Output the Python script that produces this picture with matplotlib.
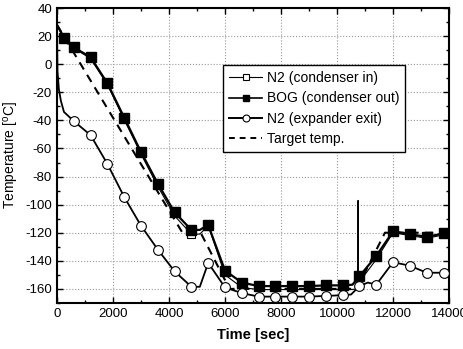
import matplotlib
matplotlib.use("Agg")
import matplotlib.pyplot as plt
from matplotlib.ticker import MultipleLocator
from matplotlib.lines import Line2D

plt.rcParams['font.family'] = ['Liberation Sans', 'DejaVu Sans']
plt.rcParams['mathtext.fontset'] = 'custom'
plt.rcParams['mathtext.rm'] = 'Liberation Sans'
plt.rcParams['axes.unicode_minus'] = False

# Target temperature
t_target = [0, 4480, 5130, 6160, 10700, 11710, 14000]
T_target = [28, -120, -120, -160, -160, -120, -120]

# N2 (condenser in)
t_n2in = [0, 250, 600, 1200, 1800, 2400, 3000, 3600, 4200, 4800, 5100, 5400, 6000, 6600,
          7200, 10500, 10740, 10750, 10760, 10800, 11400, 12000, 12600, 13200, 13800, 14000]
T_n2in = [28, 18.5, 11.5, 4, -14.5, -39.5, -64, -87, -108, -121, -121, -115, -150, -159,
          -160.5, -160.5, -160, -97, -158, -155, -139, -120, -122, -124, -121.5, -121.5]
n2in_marks = [9]

# BOG (condenser out)
t_bog = [0, 250, 600, 1200, 1800, 2400, 3000, 3600, 4200, 4800, 5100, 5400, 6000, 6600,
         7200, 7800, 8400, 9000, 9600, 10200, 10550, 10800, 11400, 12000, 12600, 13200, 13800, 14000]
T_bog = [28, 19, 12, 5, -13.5, -38, -62.5, -85, -105.5, -118, -118, -114.5, -147, -155.5,
         -158, -158, -158, -158, -157.5, -157.5, -157, -151, -136.5, -119, -121, -123, -120.5, -120.5]
bog_marks = [1, 2, 3, 4, 5, 6, 7, 8, 9, 11, 12, 13, 14, 15, 16, 17, 18, 19, 21, 22, 23, 24, 25, 26]

# N2 (expander exit)
t_n2ex = [0, 20, 70, 140, 250, 600, 1200, 1800, 2400, 3000, 3600, 4200, 4800, 5100, 5400, 6000,
          6600, 7200, 7800, 8400, 9000, 9600, 10200, 10500, 10800, 11100, 11400, 12000, 12600,
          13200, 13800, 14000]
T_n2ex = [28, -5, -18, -26, -34, -40.5, -50.5, -71, -94.5, -115, -132, -147.5, -158.5, -158.5,
          -141.5, -159, -163, -165.5, -165.5, -165.5, -165.5, -165, -164.5, -164, -158, -155.5,
          -157, -141, -143.5, -148.5, -148.5, -148.5]
n2ex_marks = [5, 6, 7, 8, 9, 10, 11, 12, 14, 15, 16, 17, 18, 19, 20, 21, 22, 24, 26, 27, 28, 29, 30]

fig = plt.figure(figsize=(4.63, 3.49), dpi=100)
ax = fig.add_axes([0.123, 0.132, 0.847, 0.845])

ax.plot(t_target, T_target, color='black', lw=1.5, dashes=(4, 3), zorder=2)
ax.plot(t_n2in, T_n2in, color='black', lw=0.8, marker='s', markersize=6, markerfacecolor='white',
        markeredgecolor='black', markeredgewidth=0.8, markevery=n2in_marks, zorder=3)
ax.plot(t_bog, T_bog, color='black', lw=1.6, marker='s', markersize=6.5, markerfacecolor='black',
        markeredgecolor='black', markevery=bog_marks, zorder=4)
ax.plot(t_n2ex, T_n2ex, color='black', lw=1.3, marker='o', markersize=7, markerfacecolor='white',
        markeredgecolor='black', markeredgewidth=0.8, markevery=n2ex_marks, zorder=5)

h1 = Line2D([], [], color='black', lw=0.8, marker='s', markersize=4.5, markerfacecolor='white',
            markeredgewidth=0.8)
h2 = Line2D([], [], color='black', lw=1.2, marker='s', markersize=4.5, markerfacecolor='black')
h3 = Line2D([], [], color='black', lw=1.4, marker='o', markersize=5, markerfacecolor='white',
            markeredgewidth=0.8)
h4 = Line2D([], [], color='black', lw=1.4, dashes=(3, 2.5))
leg = ax.legend([h1, h2, h3, h4],
                ['N2 (condenser in)', 'BOG (condenser out)', 'N2 (expander exit)', 'Target temp.'],
                loc='upper left', bbox_to_anchor=(0.423, 0.807), fontsize=10, frameon=True,
                fancybox=False, edgecolor='black', framealpha=1, handlelength=2.4,
                handletextpad=0.3, borderpad=0.45, labelspacing=0.45, borderaxespad=0)
leg.get_frame().set_linewidth(1.0)

ax.set_xlim(0, 14000)
ax.set_ylim(-170, 40)
ax.xaxis.set_major_locator(MultipleLocator(2000))
ax.xaxis.set_minor_locator(MultipleLocator(1000))
ax.yaxis.set_major_locator(MultipleLocator(20))
ax.yaxis.set_minor_locator(MultipleLocator(10))
ax.grid(True, which='major', color='#999999', linestyle=':', linewidth=0.8)
ax.tick_params(which='both', direction='in', top=True, right=True, labelsize=9.5, width=1.0)
ax.tick_params(which='major', length=4)
ax.tick_params(which='minor', length=2.5)
for s in ax.spines.values():
    s.set_linewidth(1.5)

ax.set_xlabel('Time [sec]', fontsize=10.5, fontweight='bold', labelpad=6)
ax.set_ylabel('Temperature [$^{\\rm o}$C]', fontsize=10, labelpad=3)

fig.savefig('out.png', dpi=100)
